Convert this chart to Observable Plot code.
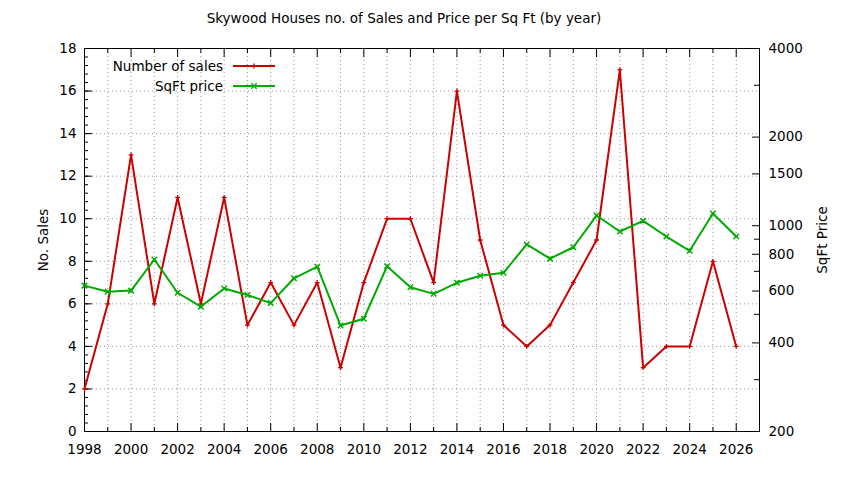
<!DOCTYPE html>
<html>
<head>
<meta charset="utf-8">
<script src="https://cdn.jsdelivr.net/npm/d3@7"></script>
<script src="https://cdn.jsdelivr.net/npm/@observablehq/plot@0.6"></script>
<style>
  body { margin: 0; background: #fff; }
  #chart svg { display: block; }
</style>
</head>
<body>
<div id="chart"></div>
<script>
const titleText = "Skywood Houses no. of Sales and Price per Sq Ft (by year)";
const leftLabel = "No. Sales";
const rightLabel = "SqFt Price";
const seriesNames = ["Number of sales", "SqFt price"];

const years = [1998,1999,2000,2001,2002,2003,2004,2005,2006,2007,2008,2009,2010,2011,2012,2013,2014,2015,2016,2017,2018,2019,2020,2021,2022,2023,2024,2025,2026];
const sales = [2,6,13,6,11,6,11,5,7,5,7,3,7,10,10,7,16,9,5,4,5,7,9,17,3,4,4,8,4];
const sqftPrice = [626,597,602,768,592,531,612,582,546,663,726,458,483,729,618,587,640,676,692,864,773,845,1083,956,1039,919,822,1100,919];

const xMajorTicks = [1998,2000,2002,2004,2006,2008,2010,2012,2014,2016,2018,2020,2022,2024,2026];
const xMinorTicks = [1999,2001,2003,2005,2007,2009,2011,2013,2015,2017,2019,2021,2023,2025];
const xGridTicks = [1999,2000,2001,2002,2003,2004,2005,2006,2007,2008,2009,2010,2011,2012,2013,2014,2015,2016,2017,2018,2019,2020,2021,2022,2023,2024,2025,2026];
const salesTicks = [0,2,4,6,8,10,12,14,16,18];
const salesGrid = [2,4,6,8,10,12,14,16];
const salesMinor = d3.range(0, 18.001, 0.4);
const priceMin = 200, priceMax = 4000, salesMax = 18;
const priceLabeled = [200,400,600,800,1000,1500,2000,4000];
const priceMinor = [300,500,700,900,3000];

const red = "#cc0000";
const green = "#00aa00";
const font = "'DejaVu Sans', sans-serif";
const fs = 13.5;

// map price (log scale, right axis) onto the left linear scale
const toLeft = p => salesMax * Math.log(p / priceMin) / Math.log(priceMax / priceMin);

const salesData = years.map((y, i) => ({year: y, v: sales[i]}));
const priceData = years.map((y, i) => ({year: y, v: toLeft(sqftPrice[i])}));

const fmtPrice = l => String(Math.round(priceMin * Math.pow(priceMax / priceMin, l / salesMax)));

const chart = Plot.plot({
  width: 844,
  height: 480,
  marginLeft: 84,
  marginRight: 85,
  marginTop: 48,
  marginBottom: 49,
  style: {fontFamily: font, fontSize: fs + "px", color: "#000", background: "#fff", overflow: "visible"},
  x: {domain: [1998, 2027]},
  y: {domain: [0, 18]},
  marks: [
    Plot.gridX(xGridTicks, {stroke: "#999", strokeOpacity: 1, strokeDasharray: "1,3"}),
    Plot.gridY(salesGrid, {stroke: "#999", strokeOpacity: 1, strokeDasharray: "1,3"}),
    // x axis
    Plot.axisX({ticks: xMajorTicks, tickSize: 0, tickPadding: 13, tickFormat: d => String(d), label: null}),
    Plot.axisX({ticks: xMajorTicks, tickSize: -8, tickFormat: () => "", label: null}),
    Plot.axisX({ticks: xMinorTicks, tickSize: -4, tickFormat: () => "", label: null}),
    Plot.axisX({anchor: "top", ticks: xMajorTicks, tickSize: -8, tickFormat: () => "", label: null}),
    Plot.axisX({anchor: "top", ticks: xMinorTicks, tickSize: -4, tickFormat: () => "", label: null}),
    // left axis
    Plot.axisY({ticks: salesTicks, tickSize: 0, tickPadding: 8, tickFormat: d => String(d), label: null}),
    Plot.axisY({ticks: salesTicks, tickSize: -8, tickFormat: () => "", label: null}),
    Plot.axisY({ticks: salesMinor, tickSize: -4, tickFormat: () => "", label: null}),
    // right axis (price, log)
    Plot.axisY({anchor: "right", ticks: priceLabeled.map(toLeft), tickSize: 0, tickPadding: 9, tickFormat: fmtPrice, label: null}),
    Plot.axisY({anchor: "right", ticks: priceLabeled.map(toLeft), tickSize: -8, tickFormat: () => "", label: null}),
    Plot.axisY({anchor: "right", ticks: priceMinor.map(toLeft), tickSize: -6, tickFormat: () => "", label: null}),
    Plot.frame({stroke: "#000", strokeWidth: 1}),
    // series
    Plot.line(salesData, {x: "year", y: "v", stroke: red, strokeWidth: 2}),
    Plot.dot(salesData, {x: "year", y: "v", symbol: "plus", r: 1.7, stroke: red, strokeWidth: 1.3}),
    Plot.line(priceData, {x: "year", y: "v", stroke: green, strokeWidth: 2}),
    Plot.dot(priceData, {x: "year", y: "v", symbol: "times", r: 2.6, stroke: green, strokeWidth: 1.5})
  ]
});

document.getElementById("chart").appendChild(chart);

// title, axis labels, legend drawn into the same svg
const svg = d3.select(chart);
svg.append("text")
  .attr("x", 404).attr("y", 18).attr("dy", "0.35em")
  .attr("text-anchor", "middle").attr("font-family", font).attr("font-size", fs)
  .attr("fill", "#000").text(titleText);

svg.append("text")
  .attr("transform", "translate(43,240) rotate(-90)").attr("dy", "0.35em")
  .attr("text-anchor", "middle").attr("font-family", font).attr("font-size", fs)
  .attr("fill", "#000").text(leftLabel);

svg.append("text")
  .attr("transform", "translate(822,240) rotate(-90)").attr("dy", "0.35em")
  .attr("text-anchor", "middle").attr("font-family", font).attr("font-size", fs)
  .attr("fill", "#000").text(rightLabel);

const legend = svg.append("g");
const legendColors = [red, green];
const legendSymbols = [d3.symbolPlus, d3.symbolTimes];
seriesNames.forEach((name, i) => {
  const y = 66 + i * 20;
  legend.append("text")
    .attr("x", 223).attr("y", y).attr("dy", "0.35em")
    .attr("text-anchor", "end").attr("font-family", font).attr("font-size", fs)
    .attr("fill", "#000").text(name);
  legend.append("line")
    .attr("x1", 233).attr("x2", 275).attr("y1", y).attr("y2", y)
    .attr("stroke", legendColors[i]).attr("stroke-width", 2);
  legend.append("path")
    .attr("transform", `translate(254,${y})`)
    .attr("d", d3.symbol(legendSymbols[i], i === 0 ? 9 : 21)())
    .attr("fill", "none").attr("stroke", legendColors[i]).attr("stroke-width", 1.4);
});
</script>
</body>
</html>
